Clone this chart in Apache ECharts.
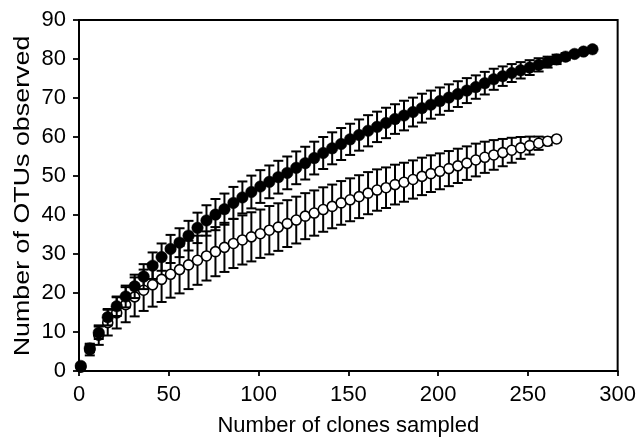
<!DOCTYPE html>
<html>
<head>
<meta charset="utf-8">
<script src="https://cdn.jsdelivr.net/npm/echarts@6/dist/echarts.min.js"></script>
<style>html,body{margin:0;padding:0;background:#fff;}#c{width:639px;height:442px;}</style>
</head>
<body>
<div id="c"></div>
<script>
// Filled circles (sample 1)
const xFilled = [1,6,11,16,21,26,31,36,41,46,51,56,61,66,71,76,81,86,91,96,101,106,111,116,121,126,131,136,141,146,151,156,161,166,171,176,181,186,191,196,201,206,211,216,221,226,231,236,241,246,251,256,261,266,271,276,281,286];
const yFilled = [1.3,5.8,9.8,13.8,16.6,19.1,21.7,24.2,27.0,29.2,31.3,32.9,34.7,36.7,38.6,40.1,41.5,43.1,44.5,45.9,47.3,48.5,49.7,50.8,52.1,53.3,54.6,55.9,57.1,58.2,59.4,60.5,61.6,62.6,63.6,64.6,65.5,66.4,67.4,68.3,69.2,70.1,71.0,71.9,72.8,73.8,74.8,75.6,76.4,77.1,77.8,78.5,79.2,79.9,80.6,81.3,81.9,82.5];
const errFilled = [0,1.0,1.6,2.1,2.5,2.8,3.0,3.2,3.4,3.5,3.6,3.7,3.8,3.9,3.9,4.0,4.0,4.1,4.1,4.2,4.2,4.2,4.2,4.2,4.2,4.2,4.2,4.1,4.1,4.1,4.0,4.0,4.0,3.9,3.9,3.8,3.8,3.7,3.7,3.6,3.5,3.4,3.3,3.2,3.0,2.9,2.7,2.5,2.3,2.1,1.9,1.7,1.4,1.2,0.9,0.6,0.4,0];
// Open circles (sample 2)
const xOpen = [1,6,11,16,21,26,31,36,41,46,51,56,61,66,71,76,81,86,91,96,101,106,111,116,121,126,131,136,141,146,151,156,161,166,171,176,181,186,191,196,201,206,211,216,221,226,231,236,241,246,251,256,261,266];
const yOpen = [1.0,5.5,9.2,12.4,14.9,17.0,19.0,20.7,22.1,23.5,24.8,26.0,27.2,28.4,29.5,30.6,31.7,32.7,33.6,34.4,35.2,36.1,36.9,37.8,38.7,39.7,40.5,41.4,42.2,43.1,43.9,44.7,45.6,46.4,47.0,47.8,48.4,49.1,49.9,50.6,51.2,51.9,52.6,53.3,54.1,54.8,55.4,56.0,56.6,57.2,57.8,58.4,58.9,59.5];
const errOpen = [0,1.5,2.5,3.3,4.0,4.5,5.0,5.3,5.6,5.8,6.0,6.1,6.2,6.3,6.3,6.3,6.3,6.3,6.3,6.3,6.2,6.2,6.1,6.0,6.0,5.9,5.8,5.7,5.6,5.6,5.5,5.5,5.4,5.3,5.2,5.1,5.0,4.9,4.8,4.7,4.6,4.5,4.4,4.3,4.2,4.0,3.8,3.5,3.2,2.8,2.3,1.7,1.0,0];
const xTicks = [0,50,100,150,200,250,300];
const yTicks = [0,10,20,30,40,50,60,70,80,90];
const xTitle = 'Number of clones sampled';
const yTitle = 'Number of OTUs observed';

const FONT = 'Liberation Sans';
function errData(xs, ys, es){ return xs.map((x,i)=>[x, ys[i]-es[i], ys[i]+es[i]]); }
function renderErr(params, api){
  const x = api.value(0), lo = api.value(1), hi = api.value(2);
  if (hi - lo <= 0) return null;
  const a = api.coord([x, lo]), b = api.coord([x, hi]);
  const w = 5;
  const st = {stroke:'#000', lineWidth:2};
  return {type:'group', children:[
    {type:'line', shape:{x1:a[0],y1:a[1],x2:b[0],y2:b[1]}, style:st},
    {type:'line', shape:{x1:b[0]-w,y1:b[1],x2:b[0]+w,y2:b[1]}, style:st},
    {type:'line', shape:{x1:a[0]-w,y1:a[1],x2:a[0]+w,y2:a[1]}, style:st}
  ]};
}
const chart = echarts.init(document.getElementById('c'));
chart.setOption({
  animation:false,
  backgroundColor:'#fff',
  textStyle:{fontFamily:FONT},
  grid:{left:79, right:18, top:20, bottom:69, show:true, borderColor:'#000', borderWidth:2},
  xAxis:{type:'value', min:xTicks[0], max:xTicks[xTicks.length-1], interval:50,
    axisLine:{show:true, lineStyle:{color:'#000', width:2}},
    axisTick:{show:true, inside:false, length:5, lineStyle:{color:'#000', width:1.8}},
    axisLabel:{color:'#000', fontSize:22, fontFamily:FONT, margin:13},
    splitLine:{show:false},
    name:xTitle, nameLocation:'middle', nameGap:44,
    nameTextStyle:{color:'#000', fontSize:22, fontFamily:FONT}},
  yAxis:{type:'value', min:yTicks[0], max:yTicks[yTicks.length-1], interval:10,
    axisLine:{show:true, lineStyle:{color:'#000', width:2}},
    axisTick:{show:true, inside:false, length:6, lineStyle:{color:'#000', width:1.8}},
    axisLabel:{color:'#000', fontSize:22, fontFamily:FONT, margin:13},
    splitLine:{show:false}},
  graphic:[{type:'text', x:23, y:196, rotation:Math.PI/2, scaleX:1.22,
    style:{text:yTitle, fontSize:22, fontFamily:FONT, fill:'#000', align:'center', verticalAlign:'middle', textAlign:'center', textVerticalAlign:'middle'}}],
  series:[
    {type:'custom', renderItem:renderErr, data:errData(xOpen,yOpen,errOpen), encode:{x:0,y:[1,2]}, clip:false, z:2},
    {type:'scatter', data:xOpen.map((x,i)=>[x,yOpen[i]]), symbol:'circle', symbolSize:10, clip:false, z:3,
      itemStyle:{color:'#fff', borderColor:'#000', borderWidth:1.6, opacity:1}},
    {type:'custom', renderItem:renderErr, data:errData(xFilled,yFilled,errFilled), encode:{x:0,y:[1,2]}, clip:false, z:4},
    {type:'scatter', data:xFilled.map((x,i)=>[x,yFilled[i]]), symbol:'circle', symbolSize:11.5, clip:false, z:5,
      itemStyle:{color:'#000', borderColor:'#000', borderWidth:0.5, opacity:1}}
  ]
});
</script>
</body>
</html>
